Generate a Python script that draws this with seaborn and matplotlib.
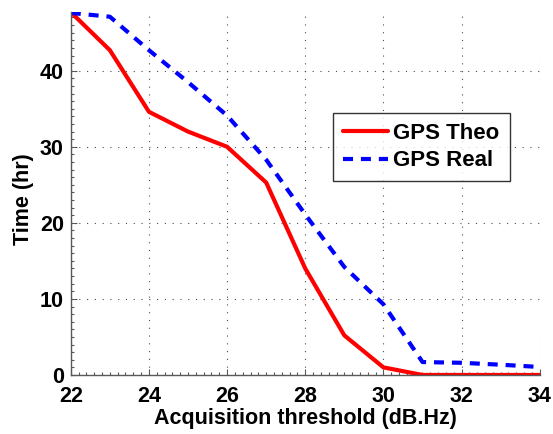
import matplotlib
matplotlib.use("Agg")
import matplotlib.pyplot as plt
import seaborn as sns
import pandas as pd
from matplotlib.ticker import MultipleLocator

# Acquisition threshold (dB.Hz) and time to acquire (hours)
threshold = [22, 23, 24, 25, 26, 27, 28, 29, 30, 31, 32, 33, 34]
gps_theo = [47.7, 42.7, 34.6, 32.0, 30.0, 25.3, 14.0, 5.2, 1.0, 0.0, 0.0, 0.0, 0.0]
gps_real = [47.6, 47.1, 42.7, 38.5, 34.1, 28.3, 21.1, 14.2, 9.3, 1.7, 1.6, 1.35, 1.05]
series_names = ["GPS Theo", "GPS Real"]
x_ticks = [22, 24, 26, 28, 30, 32, 34]
y_ticks = [0, 10, 20, 30, 40]

df = pd.DataFrame({
    "threshold": threshold * 2,
    "time": gps_theo + gps_real,
    "series": [series_names[0]] * len(threshold) + [series_names[1]] * len(threshold),
})

sns.set_style("ticks")
plt.rcParams["font.family"] = ["Liberation Sans", "DejaVu Sans"]
plt.rcParams["font.weight"] = "bold"
plt.rcParams["text.color"] = "black"
plt.rcParams["axes.labelcolor"] = "black"
plt.rcParams["xtick.labelcolor"] = "black"
plt.rcParams["ytick.labelcolor"] = "black"

FS = 15.5

fig = plt.figure(figsize=(5.53, 4.34), dpi=100)
ax = fig.add_axes([0.128, 0.136, 0.848, 0.836])

sns.lineplot(
    data=df, x="threshold", y="time", hue="series", style="series",
    palette={"GPS Theo": "#ff0000", "GPS Real": "#0000ff"},
    dashes={"GPS Theo": "", "GPS Real": (2.4, 1.9)},
    linewidth=3, ax=ax,
)

ax.set_xlim(22, 34)
ax.set_ylim(0, 47.7)
ax.set_xticks(x_ticks)
ax.set_yticks(y_ticks)
ax.xaxis.set_minor_locator(MultipleLocator(0.2))
ax.yaxis.set_minor_locator(MultipleLocator(1))
ax.tick_params(which="both", direction="in", color="0.35", width=0.8, labelcolor="black")
ax.tick_params(which="major", length=4, labelsize=FS)
ax.tick_params(axis="x", which="major", pad=8)
ax.tick_params(axis="y", which="major", pad=5)
ax.tick_params(which="minor", length=2)
for lbl in ax.get_xticklabels() + ax.get_yticklabels():
    lbl.set_fontweight("bold")

ax.grid(True, which="major", linestyle=(0, (1, 6)), color="0.3", linewidth=0.8)
for side in ("top", "right"):
    ax.spines[side].set_visible(False)
for side in ("left", "bottom"):
    ax.spines[side].set_color("0.35")
    ax.spines[side].set_linewidth(1.0)

ax.set_xlabel("Acquisition threshold (dB.Hz)", fontsize=FS, fontweight="bold",
              labelpad=1, color="black")
ax.set_ylabel("Time (hr)", fontsize=FS, fontweight="bold", labelpad=4, color="black")
ax.yaxis.label.set_y(0.485)

leg = ax.legend(
    title=None, loc="center", bbox_to_anchor=(0.748, 0.628),
    fontsize=16, frameon=True, fancybox=False, edgecolor="black",
    handlelength=2.0, handletextpad=0.25, borderpad=0.45, labelspacing=0.3,
    borderaxespad=0,
)
leg.get_frame().set_linewidth(1.0)
for t in leg.get_texts():
    t.set_fontweight("bold")
    t.set_color("black")

fig.savefig("out.png", dpi=100)
